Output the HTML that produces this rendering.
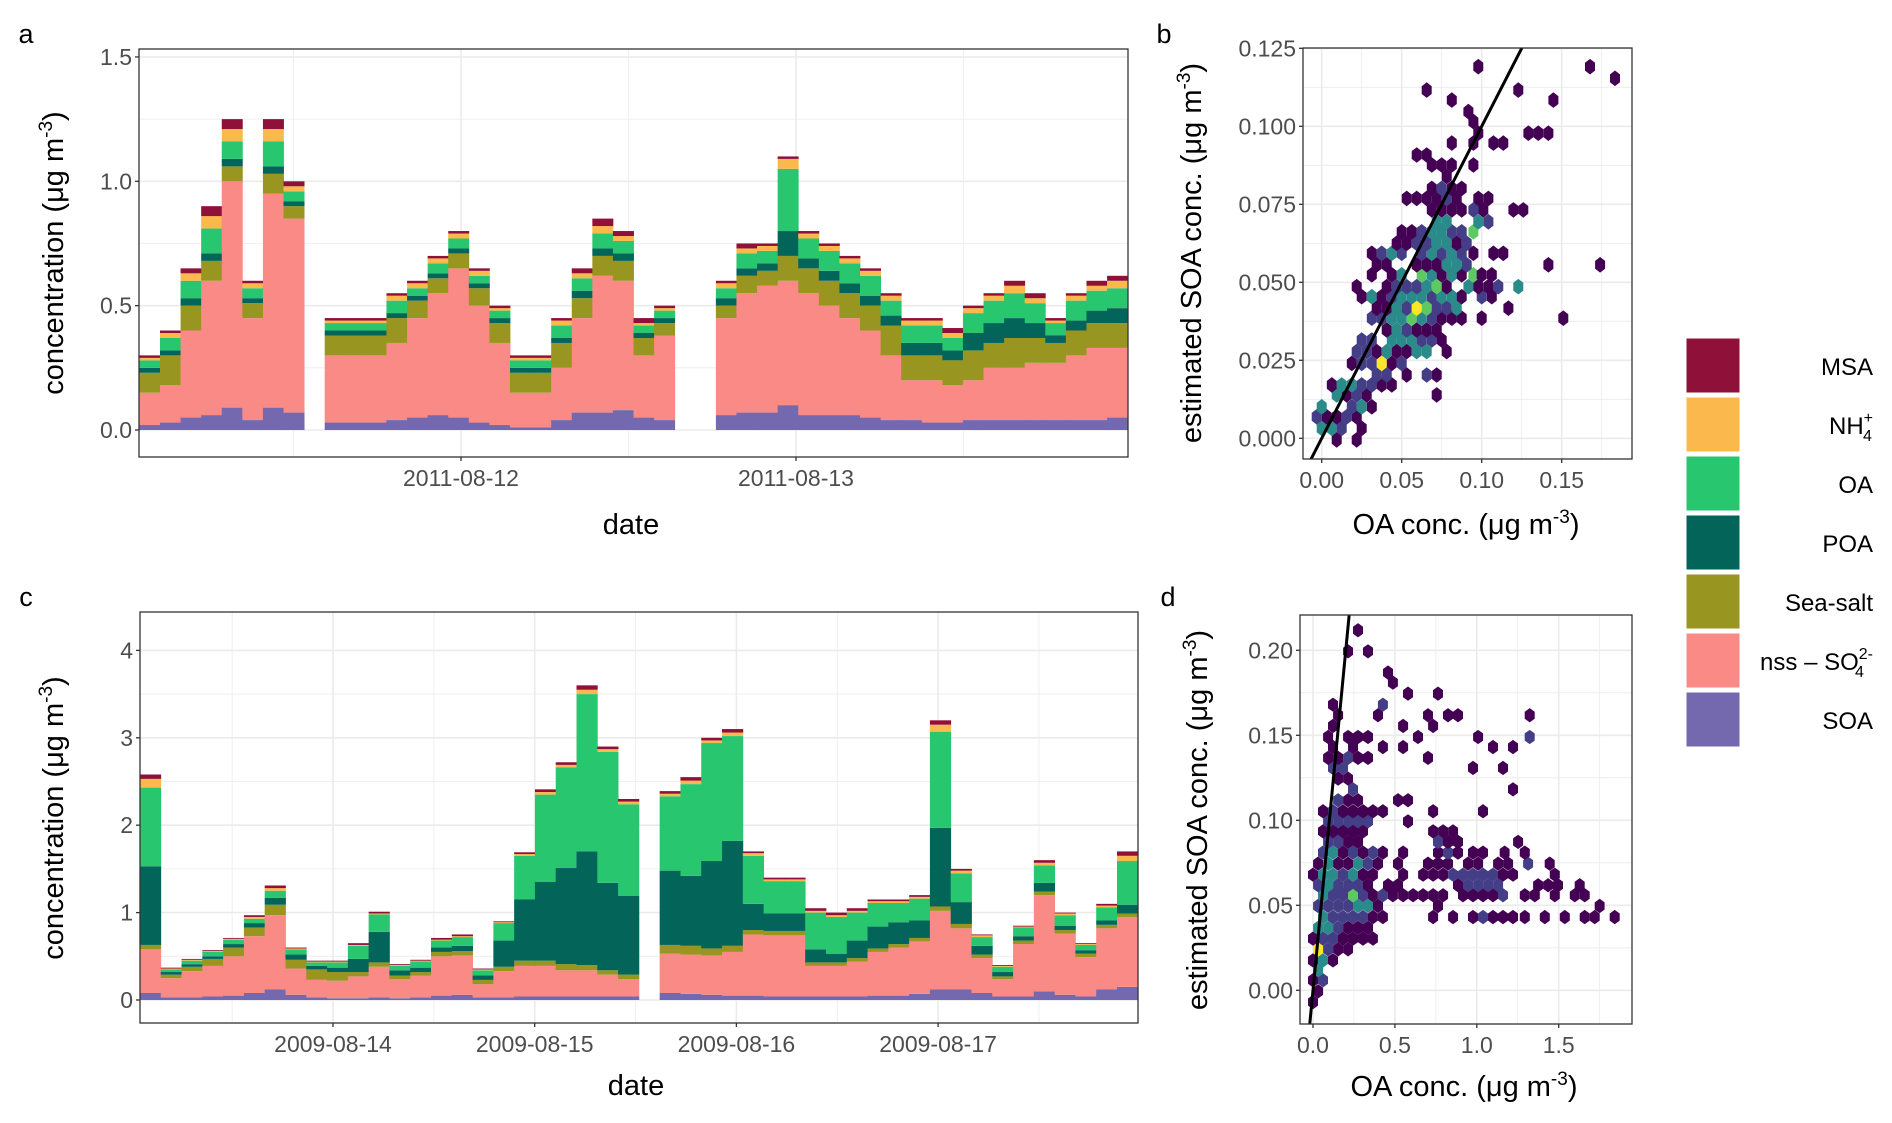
<!DOCTYPE html>
<html><head><meta charset="utf-8">
<style>
html,body{margin:0;padding:0;background:#fff;}
svg{display:block;font-family:"Liberation Sans",Arial,sans-serif;}
.tick{font-size:23px;fill:#4d4d4d;}
.title{font-size:29px;fill:#000;}
.letter{font-size:27px;fill:#000;}
.leg{font-size:24px;fill:#000;}
</style></head>
<body>
<svg id="fig" width="1892" height="1123" viewBox="0 0 1892 1123" xmlns="http://www.w3.org/2000/svg">
<defs>
<clipPath id="clipA"><rect x="139" y="49" width="989" height="408"/></clipPath>
<clipPath id="clipB"><rect x="1303" y="48" width="329" height="411"/></clipPath>
<clipPath id="clipC"><rect x="140" y="612" width="998" height="411"/></clipPath>
<clipPath id="clipD"><rect x="1300" y="615" width="332" height="409"/></clipPath>
</defs>
</svg>
<script>
// ---------- Panel a data (1.5-hour bins starting 2011-08-11 ~01:00) ----------
const aSOA = [.02,.03,.05,.06,.09,.04,.09,.07,null,.03,.03,.03,.04,.05,.06,.05,.03,.02,.01,.01,.04,.07,.07,.08,.05,.04,null,null,.06,.07,.07,.1,.06,.06,.06,.05,.04,.04,.03,.03,.04,.04,.04,.04,.04,.04,.04,.05];
const aNSS = [.13,.15,.35,.54,.91,.41,.86,.78,null,.27,.27,.27,.31,.4,.49,.6,.47,.33,.14,.14,.21,.38,.55,.52,.25,.34,null,null,.39,.48,.51,.5,.49,.44,.39,.35,.26,.16,.17,.15,.16,.21,.21,.23,.23,.26,.29,.28];
const aSeaSalt = [.08,.12,.1,.08,.06,.06,.08,.05,null,.08,.08,.08,.1,.07,.06,.06,.07,.08,.08,.08,.1,.08,.08,.08,.07,.05,null,null,.05,.07,.06,.1,.1,.1,.1,.1,.12,.1,.1,.1,.12,.1,.12,.1,.08,.1,.1,.1];
const aPOA = [.02,.02,.03,.03,.03,.02,.03,.02,null,.02,.02,.02,.02,.02,.02,.02,.02,.02,.02,.02,.02,.03,.03,.03,.02,.02,null,null,.03,.03,.03,.1,.04,.04,.04,.04,.04,.05,.05,.04,.07,.08,.08,.06,.03,.04,.05,.06];
const aOA = [.03,.05,.07,.1,.07,.04,.1,.04,null,.03,.03,.03,.05,.03,.04,.04,.03,.03,.03,.03,.05,.05,.06,.05,.03,.03,null,null,.04,.06,.05,.25,.08,.08,.08,.08,.06,.07,.07,.05,.08,.09,.1,.08,.05,.08,.08,.08];
const aNH4 = [.01,.02,.03,.05,.05,.02,.05,.02,null,.01,.01,.01,.02,.02,.02,.02,.02,.01,.01,.01,.02,.02,.03,.02,.01,.01,null,null,.02,.02,.02,.04,.02,.02,.02,.02,.02,.02,.02,.02,.02,.02,.03,.02,.01,.02,.02,.03];
const aMSA = [.01,.01,.02,.04,.04,.01,.04,.02,null,.01,.01,.01,.01,.01,.01,.01,.01,.01,.01,.01,.01,.02,.03,.02,.02,.01,null,null,.01,.02,.01,.01,.01,.01,.01,.01,.01,.01,.01,.02,.01,.01,.02,.02,.01,.01,.02,.02];
const aTickLabels = ["2011-08-12","2011-08-13"];
const aTickDays = [0,1];
const aYTicks = [0,0.5,1.0,1.5];

// ---------- Panel c data (~2.5-hour bins starting 2009-08-13 ~01:00) ----------
const cSOA = [.08,.03,.03,.04,.05,.08,.12,.06,.03,.02,.02,.03,.02,.03,.05,.06,.03,.03,.04,.04,.04,.04,.04,.04,null,.08,.07,.06,.05,.05,.04,.04,.04,.04,.04,.05,.05,.07,.12,.12,.08,.04,.04,.1,.06,.04,.12,.15];
const cNSS = [.5,.22,.3,.35,.45,.65,.85,.3,.2,.2,.25,.35,.22,.25,.45,.45,.15,.3,.35,.35,.3,.3,.25,.2,null,.45,.45,.45,.5,.7,.7,.7,.35,.35,.4,.5,.55,.6,.9,.7,.4,.2,.6,1.1,.7,.45,.7,.8];
const cSeaSalt = [.05,.04,.05,.08,.1,.1,.12,.1,.12,.1,.05,.05,.04,.04,.05,.05,.05,.05,.06,.06,.07,.06,.05,.05,null,.1,.1,.08,.07,.05,.05,.05,.04,.04,.04,.04,.04,.04,.05,.05,.04,.03,.04,.04,.04,.04,.04,.04];
const cPOA = [.9,.03,.03,.03,.04,.05,.08,.06,.04,.05,.15,.35,.06,.05,.05,.06,.05,.3,.7,.9,1.1,1.3,1.0,.9,null,.85,.8,1.0,1.2,.3,.2,.2,.15,.1,.2,.25,.25,.2,.9,.25,.1,.05,.05,.1,.05,.04,.05,.1];
const cOA = [.9,.03,.04,.05,.05,.05,.08,.06,.04,.06,.15,.2,.05,.07,.08,.1,.06,.2,.5,1.0,1.15,1.8,1.5,1.05,null,.85,1.05,1.35,1.2,.55,.37,.37,.42,.42,.32,.27,.22,.25,1.1,.33,.1,.06,.1,.2,.12,.06,.15,.5];
const cNH4 = [.1,.01,.01,.01,.01,.02,.03,.01,.01,.01,.01,.01,.01,.01,.01,.01,.01,.01,.02,.03,.03,.05,.03,.03,null,.03,.04,.03,.04,.03,.02,.02,.02,.02,.02,.02,.02,.02,.08,.03,.02,.01,.01,.03,.02,.01,.02,.06];
const cMSA = [.05,.01,.01,.01,.01,.02,.03,.01,.01,.01,.02,.02,.01,.01,.02,.02,.01,.01,.02,.03,.03,.05,.03,.03,null,.03,.04,.03,.04,.02,.02,.02,.03,.03,.03,.02,.02,.02,.05,.02,.01,.01,.01,.03,.01,.01,.02,.05];
const cTickLabels = ["2009-08-14","2009-08-15","2009-08-16","2009-08-17"];
const cTickDays = [0,1,2,3];
const cYTicks = [0,1,2,3,4];

// ---------- Panel b hexbin data ----------
const bRowY = [-.0005,.0032,.0069,.0101,.0139,.0171,.0203,.0240,.0278,.0315,.0347,.0385,.0417,.0454,.0486,.0524,.0556,.0593,.0625,.0662,.0694,.0732,.0769,.0801,.0839,.0876,.0908,.0946,.0978,.1015,.1047,.1084,.1116,.1154,.1191];
const bRowX = [
[.0094,.0219],[0,.0063,.0125,.025],[-.0031,.0031,.0094,.0156,.0219],[0,.0188,.025,.0313],[.0094,.0156,.0219,.0281,.0719],
[.0063,.0125,.0188,.025,.0313,.0375,.0438],[.0344,.0406,.0531,.0656,.0719],[.0188,.025,.0313,.0375,.0438,.05],
[.0219,.0281,.0344,.0406,.0469,.0531,.0594,.0656,.0781],[.025,.0313,.0438,.05,.0563,.0625,.0688,.075],
[.0406,.0469,.0531,.0594,.0656,.0719],[.0313,.0375,.0438,.05,.0563,.0625,.0688,.075,.0813,.0875,.1,.151],
[.0344,.0406,.0469,.0531,.0594,.0656,.0719,.0781,.0844,.1167],[.025,.0313,.0375,.0438,.05,.0563,.0625,.0688,.075,.0813,.0875,.1,.1063],
[.0219,.0406,.0469,.0531,.0594,.0656,.0719,.0781,.0917,.0979,.1042,.1104,.1229],[.0313,.0438,.05,.0625,.0688,.075,.0813,.0875,.0948,.1,.1063],
[.0344,.0406,.0594,.0656,.0719,.0781,.0844,.0906,.1417,.174],[.0313,.0375,.0438,.05,.0625,.0688,.075,.0813,.0875,.0948,.1073,.1135],
[.0469,.0531,.0594,.0656,.0719,.0781,.0844,.0906],[.05,.0563,.0625,.0688,.075,.0813,.0875,.0948],[.0719,.0781,.0979,.1042],
[.0688,.075,.0813,.0875,.0948,.101,.1198,.126],[.0531,.0594,.0656,.0719,.0781,.0844,.0979,.1042],[.0688,.075,.0813,.0875],[.0781],
[.0688,.075,.0813,.0948],[.0594,.0656],[.0813,.0948,.1073,.1135],[.0979,.1292,.1354,.1417],[.0948],[.0917],[.0813,.1448],[.0656,.1229],[.1833],[.0979,.1677]];
const bRowN = [
[1,1],[3,3,2,1],[2,1,1,2,1],[3,2,3,1],[3,1,2,1,1],[1,3,3,2,2,1,1],[2,2,1,2,1],[1,2,2,5,1,2],[2,2,1,3,1,1,3,3,1],[2,2,3,3,3,2,2,1],
[1,3,2,1,1,1],[2,2,3,3,4,3,2,1,1,1,1,1],[1,1,3,2,5,4,2,2,3,1],[1,3,1,2,3,3,3,2,3,3,1,2,1],[1,1,2,2,2,3,4,1,3,1,1,2,3],
[1,1,3,4,3,1,3,1,4,1,1],[1,1,1,1,1,3,3,2,1,1],[1,2,3,2,2,3,2,3,2,1,1,1],[1,1,2,2,3,3,1,2],[1,1,2,3,3,2,2,4],[3,3,3,2],
[1,1,1,1,2,1,1,1],[1,1,1,1,2,1,1,1],[1,2,1,1],[1],[1,1,1,1],[1,1],[1,1,1,1],[1,1,1,1],[1],[1],[1,1],[1,1],[1],[1,1]];

// ---------- Panel d hexbin data ----------
const dRowY = [-.0069,-.0006,.0059,.0118,.0176,.0241,.0304,.0367,.0431,.0496,.0559,.0618,.068,.0745,.081,.0873,.0935,.0994,.1053,.1118,.1182,.1245,.1308,.1367,.1431,.149,.1555,.1618,.168,.1745,.181,.1869,.1994,.2118];
const dRowX = [
[0],[.031],[0,.061],[.031],[0,.061,.122],[.031,.092,.153,.214],[0,.061,.122,.183,.244,.305,.366],[.031,.092,.153,.214,.275,.336],
[.061,.122,.183,.244,.305,.366,.427,.733,.855,.977,1.038,1.099,1.16,1.221,1.293,1.415,1.537,1.659,1.72,1.842],
[.031,.092,.153,.214,.275,.336,.397,.763,1.75],
[.061,.122,.183,.244,.305,.366,.427,.488,.55,.611,.672,.733,.794,.916,.977,1.038,1.099,1.16,1.293,1.354,1.476,1.598,1.659],
[.031,.092,.153,.214,.275,.336,.458,.519,.885,.946,1.008,1.069,1.13,1.374,1.435,1.496,1.628],
[0,.061,.122,.183,.244,.305,.366,.55,.672,.733,.794,.855,.916,.977,1.038,1.099,1.16,1.221,1.476],
[.031,.092,.153,.214,.275,.336,.397,.519,.702,.763,.824,.946,1.008,1.13,1.191,1.313,1.445],
[.061,.122,.183,.244,.305,.366,.427,.55,.763,.824,.885,.977,1.038,1.17,1.293],
[.092,.153,.214,.275,.763,.824,.885,1.252],[.061,.122,.183,.244,.305,.733,.794,.855],[.092,.153,.214,.275,.336,.58],
[.061,.122,.183,.244,.305,.366,.427,.733,1.038],[.153,.214,.275,.519,.58],[.244,1.221],[.153,.214],[.122,.183,.977,1.16],
[.092,.153,.214,.275,.336,.702],[.122,.244,.427,.55,1.099,1.221],[.092,.214,.275,.336,.641,1.008,1.323],[.122,.55,.733],
[.153,.397,.702,.824,.885,1.323],[.122,.427],[.58,.763],[.488],[.458],[.214,.336],[.275]];
const dRowN = [
[1],[1],[1,2],[3],[1,3,1],[5,2,1,1],[1,2,2,1,1,1,1],[3,3,2,1,1,1],
[3,2,2,2,2,1,1,1,1,1,2,1,1,1,1,1,1,1,1,1],[2,2,2,2,3,3,1,1,1],
[3,2,2,4,2,1,2,1,1,1,1,1,1,1,1,1,1,2,1,1,1,1,1],[2,3,2,2,2,1,1,1,1,2,2,2,2,1,1,1,1],
[1,3,3,2,3,1,1,1,1,1,1,2,2,2,2,2,1,1,1],[1,3,1,1,3,2,1,1,1,1,1,1,1,1,1,2,1],
[2,3,1,2,1,2,1,1,1,2,1,1,1,1,1],[2,2,1,1,2,1,1,1],[1,1,1,1,1,1,1,1],[2,2,2,2,2,1],[1,2,1,1,1,1,1,1,1],[2,1,1,1,1],[2,1],[1,1],[2,2,1,1],
[1,1,2,1,1,1],[1,1,1,1,1,1],[1,1,1,1,1,1,2],[1,1,1],[1,1,1,1,1,1],[1,2],[1,1],[1],[1],[1,1],[1]];

const bXTicks = [0,0.05,0.10,0.15];
const bXTickLabels = ["0.00","0.05","0.10","0.15"];
const bYTicks = [0,0.025,0.05,0.075,0.1,0.125];
const bYTickLabels = ["0.000","0.025","0.050","0.075","0.100","0.125"];
const dXTicks = [0,0.5,1.0,1.5];
const dXTickLabels = ["0.0","0.5","1.0","1.5"];
const dYTicks = [0,0.05,0.1,0.15,0.2];
const dYTickLabels = ["0.00","0.05","0.10","0.15","0.20"];

const legendLabels = ["MSA","NH4","OA","POA","Sea-salt","nss","SOA"];

// ---------- helpers ----------
const NS = "http://www.w3.org/2000/svg";
const svg = document.getElementById('fig');
function mk(tag, attrs, parent) {
  const e = document.createElementNS(NS, tag);
  for (const k in attrs) e.setAttribute(k, attrs[k]);
  (parent || svg).appendChild(e);
  return e;
}
const COLORS = {SOA:"#7469ae", nss:"#f98a86", SeaSalt:"#989620", POA:"#03645a", OA:"#27c66f", NH4:"#fbb84c", MSA:"#8f1038"};
const HEX = ["#440154","#440154","#433e85","#2a8b8a","#5ec962","#fde725"];

function panelFrame(name, x0, y0, x1, y1) {
  const r = mk('rect', {x:x0, y:y0, width:x1-x0, height:y1-y0, fill:'#fff'});
  
  
}
function gridV(name, x, y0, y1, major) {
  const l = mk('line', {x1:x, x2:x, y1:y0, y2:y1, stroke:'#ebebeb', 'stroke-width': major ? 1.6 : 0.8});
  
  
}
function gridH(name, y, x0, x1, major) {
  const l = mk('line', {x1:x0, x2:x1, y1:y, y2:y, stroke:'#ebebeb', 'stroke-width': major ? 1.6 : 0.8});
  
  
}
function border(name, x0, y0, x1, y1) {
  const r = mk('rect', {x:x0, y:y0, width:x1-x0, height:y1-y0, fill:'none', stroke:'#333', 'stroke-width':1.3});
  
  
}
function txt(name, s, x, y, cls, anchor, extra) {
  const t = mk('text', Object.assign({x:x, y:y, class:cls, 'text-anchor':anchor || 'middle'}, extra || {}));
  t.textContent = s;
  
  
  return t;
}
function xTick(name, x, y, label, ly) {
  const l = mk('line', {x1:x, x2:x, y1:y, y2:y+4, stroke:'#333', 'stroke-width':1.3});
  
  
  txt(name + '-label', label, x, ly, 'tick', 'middle');
}
function yTick(name, x, y, label) {
  const l = mk('line', {x1:x-4, x2:x, y1:y, y2:y, stroke:'#333', 'stroke-width':1.3});
  
  
  txt(name + '-label', label, x-7, y+8, 'tick', 'end');
}
function yTitle(name, x, y, base) {
  const t = mk('text', {x:0, y:0, class:'title', 'text-anchor':'middle', transform:`translate(${x},${y}) rotate(-90)`});
  
  
  t.appendChild(document.createTextNode(base + ' (μg m'));
  const s = mk('tspan', {dy:-11, 'font-size':19}, t); s.textContent = '-3';
  const e = mk('tspan', {dy:11}, t); e.textContent = ')';
}
function xTitleSup(name, x, y) {
  const t = mk('text', {x:x, y:y, class:'title', 'text-anchor':'middle'});
  
  
  t.appendChild(document.createTextNode('OA conc. (μg m'));
  const s = mk('tspan', {dy:-11, 'font-size':19}, t); s.textContent = '-3';
  const e = mk('tspan', {dy:11}, t); e.textContent = ')';
}

// ---------- stacked bar panel ----------
function stackPanel(p) {
  panelFrame(p.name, p.x0, p.y0, p.x1, p.y1);
  p.minorX.forEach((d,i) => gridV(p.name + '-grid-x-minor', p.xs(d), p.y0, p.y1, false));
  p.minorY.forEach(v => gridH(p.name + '-grid-y-minor', p.ys(v), p.x0, p.x1, false));
  p.tickDays.forEach(d => gridV(p.name + '-grid-x-major', p.xs(d), p.y0, p.y1, true));
  p.yTicks.forEach(v => gridH(p.name + '-grid-y-major', p.ys(v), p.x0, p.x1, true));
  const g = mk('g', {'clip-path':`url(#${p.clip})`});
  
  
  const layers = [['SOA',p.soa],['nss',p.nss],['SeaSalt',p.ss],['POA',p.poa],['OA',p.oa],['NH4',p.nh4],['MSA',p.msa]];
  const n = p.soa.length;
  for (let i = 0; i < n; i++) {
    if (p.soa[i] === null) continue;
    const xa = p.xs(p.t0 + i*p.bw), xb = p.xs(p.t0 + (i+1)*p.bw);
    let cum = 0;
    layers.forEach(([key, arr]) => {
      const v = arr[i] || 0;
      const ya = p.ys(cum + v), yb = p.ys(cum);
      const r = mk('rect', {x:xa, y:ya, width:(xb-xa)+0.4, height:Math.max(0, yb-ya), fill:COLORS[key]}, g);
      
      
      cum += v;
    });
  }
  border(p.name, p.x0, p.y0, p.x1, p.y1);
  p.tickDays.forEach((d,i) => xTick(p.name + '-x-tick', p.xs(d), p.y1, p.tickLabels[i], p.y1 + 29));
  p.yTicks.forEach(v => yTick(p.name + '-y-tick', p.x0, p.ys(v), p.yFmt(v)));
}

stackPanel({
  name:'panel-a', x0:139, y0:49, x1:1128, y1:457, clip:'clipA',
  xs: d => 461 + d*335, ys: v => 430 - v*248.7,
  t0:-0.96, bw:2.95/48,
  soa:aSOA, nss:aNSS, ss:aSeaSalt, poa:aPOA, oa:aOA, nh4:aNH4, msa:aMSA,
  tickDays:aTickDays, tickLabels:aTickLabels, minorX:[-0.5,0.5,1.5], yTicks:aYTicks, minorY:[0.25,0.75,1.25],
  yFmt: v => v.toFixed(1)
});
stackPanel({
  name:'panel-c', x0:140, y0:612, x1:1138, y1:1023, clip:'clipC',
  xs: d => 333 + d*201.7, ys: v => 1000 - v*87.4,
  t0:-0.957, bw:4.947/48,
  soa:cSOA, nss:cNSS, ss:cSeaSalt, poa:cPOA, oa:cOA, nh4:cNH4, msa:cMSA,
  tickDays:cTickDays, tickLabels:cTickLabels, minorX:[-0.5,0.5,1.5,2.5,3.5], yTicks:cYTicks, minorY:[0.5,1.5,2.5,3.5],
  yFmt: v => String(v)
});

// ---------- hexbin panel ----------
function hexPanel(p) {
  panelFrame(p.name, p.x0, p.y0, p.x1, p.y1);
  p.minorX.forEach(v => gridV(p.name + '-grid-x-minor', p.xs(v), p.y0, p.y1, false));
  p.minorY.forEach(v => gridH(p.name + '-grid-y-minor', p.ys(v), p.x0, p.x1, false));
  p.xTicks.forEach(v => gridV(p.name + '-grid-x-major', p.xs(v), p.y0, p.y1, true));
  p.yTicks.forEach(v => gridH(p.name + '-grid-y-major', p.ys(v), p.x0, p.x1, true));
  const g = mk('g', {'clip-path':`url(#${p.clip})`});
  
  
  p.rowY.forEach((yv, r) => {
    p.rowX[r].forEach((xv, k) => {
      const cx = p.xs(xv), cy = p.ys(yv);
      const hw = p.xs(xv + p.hdx) - cx, hh = cy - p.ys(yv + p.hdy);
      const pts = [[0,-hh],[hw,-hh/2],[hw,hh/2],[0,hh],[-hw,hh/2],[-hw,-hh/2]].map(q => (cx+q[0]).toFixed(1)+','+(cy+q[1]).toFixed(1)).join(' ');
      const h = mk('polygon', {points:pts, fill:HEX[p.rowN[r][k]]}, g);
      
      
    });
  });
  const l = mk('line', {x1:p.xs(p.lineFrom), y1:p.ys(p.lineFrom), x2:p.xs(p.lineTo), y2:p.ys(p.lineTo), stroke:'#000', 'stroke-width':3}, g);
  
  
  border(p.name, p.x0, p.y0, p.x1, p.y1);
  p.xTicks.forEach((v,i) => xTick(p.name + '-x-tick', p.xs(v), p.y1, p.xLabels[i], p.y1 + 29));
  p.yTicks.forEach((v,i) => yTick(p.name + '-y-tick', p.x0, p.ys(v), p.yLabels[i]));
}

hexPanel({
  name:'panel-b', x0:1303, y0:48, x1:1632, y1:459, clip:'clipB',
  xs: v => 1321.7 + v*1600, ys: v => 438.3 - v*3120,
  hdx:0.003125, hdy:0.0025,
  rowY:bRowY, rowX:bRowX, rowN:bRowN,
  xTicks:bXTicks, xLabels:bXTickLabels, yTicks:bYTicks, yLabels:bYTickLabels,
  minorX:[0.025,0.075,0.125,0.175], minorY:[0.0125,0.0375,0.0625,0.0875,0.1125],
  lineFrom:-0.02, lineTo:0.15
});
hexPanel({
  name:'panel-d', x0:1300, y0:615, x1:1632, y1:1024, clip:'clipD',
  xs: v => 1313 + v*163.8, ys: v => 990.3 - v*1700,
  hdx:0.0305, hdy:0.0042,
  rowY:dRowY, rowX:dRowX, rowN:dRowN,
  xTicks:dXTicks, xLabels:dXTickLabels, yTicks:dYTicks, yLabels:dYTickLabels,
  minorX:[0.25,0.75,1.25,1.75], minorY:[0.025,0.075,0.125,0.175],
  lineFrom:-0.03, lineTo:0.25
});

// ---------- titles ----------
yTitle('panel-a-y-axis-title', 63, 253, 'concentration');
yTitle('panel-c-y-axis-title', 63, 818, 'concentration');
yTitle('panel-b-y-axis-title', 1201, 253, 'estimated SOA conc.');
yTitle('panel-d-y-axis-title', 1207, 820, 'estimated SOA conc.');
txt('panel-a-x-axis-title', 'date', 631, 534, 'title', 'middle');
txt('panel-c-x-axis-title', 'date', 636, 1095, 'title', 'middle');
xTitleSup('panel-b-x-axis-title', 1466, 534);
xTitleSup('panel-d-x-axis-title', 1464, 1096);
txt('panel-a-letter', 'a', 26, 43, 'letter', 'middle');
txt('panel-b-letter', 'b', 1164, 43, 'letter', 'middle');
txt('panel-c-letter', 'c', 26, 606, 'letter', 'middle');
txt('panel-d-letter', 'd', 1168, 606, 'letter', 'middle');

// ---------- legend ----------
const legKeys = ['MSA','NH4','OA','POA','SeaSalt','nss','SOA'];
legKeys.forEach((k, i) => {
  const y = 338 + i*59;
  const r = mk('rect', {x:1686, y:y, width:54, height:55, fill:COLORS[k], stroke:'#fff', 'stroke-width':1});
  
  
  const t = mk('text', {x:1873, y:y + 37, class:'leg', 'text-anchor':'end'});
  
  
  const lab = legendLabels[i];
  if (lab === 'NH4') {
    t.appendChild(document.createTextNode('NH'));
    const a = mk('tspan', {'font-size':16, dy:-11}, t); a.textContent = '+';
    const b = mk('tspan', {'font-size':16, dx:-10, dy:18}, t); b.textContent = '4';
  } else if (lab === 'nss') {
    t.appendChild(document.createTextNode('nss – SO'));
    const a = mk('tspan', {'font-size':16, dy:-11}, t); a.textContent = '2-';
    const b = mk('tspan', {'font-size':16, dx:-18, dy:18}, t); b.textContent = '4';
    const c = mk('tspan', {'font-size':16, dx:9, dy:0}, t); c.textContent = '';
  } else {
    t.textContent = lab;
  }
});
</script>
</body></html>
